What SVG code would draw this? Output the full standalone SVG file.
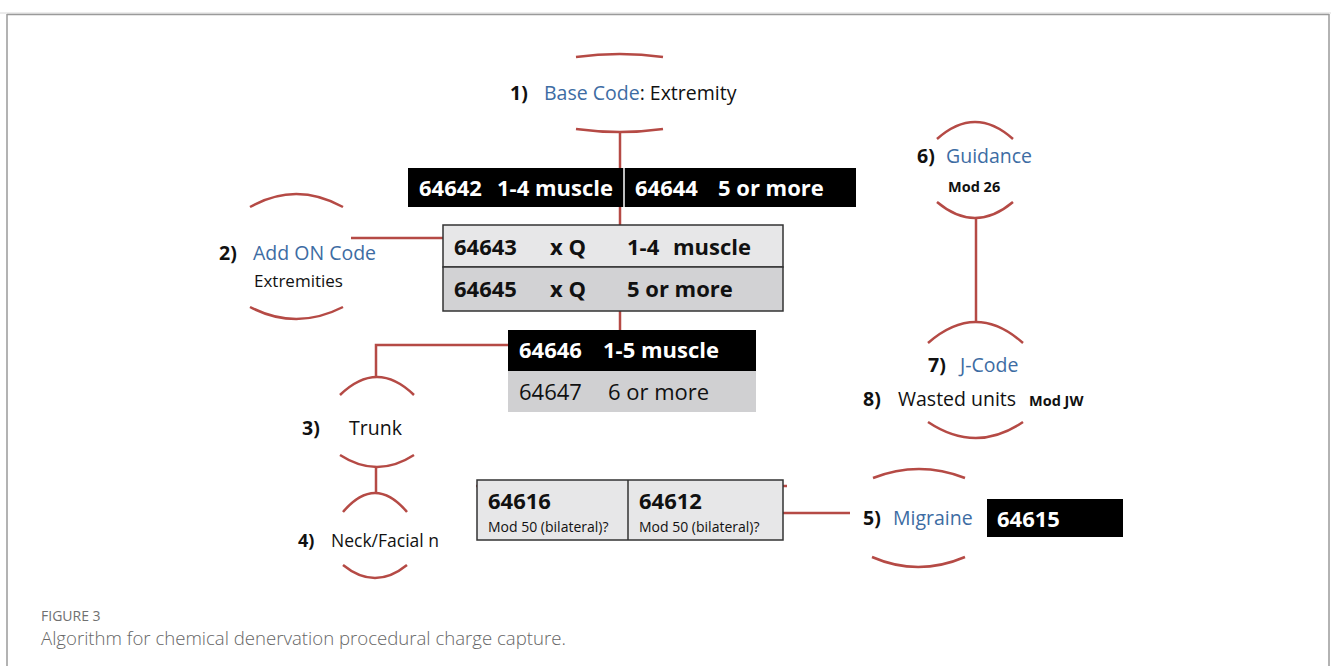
<svg xmlns="http://www.w3.org/2000/svg" width="1331" height="666" viewBox="0 0 1331 666">
<style>
text{font-family:"Open Sans","Liberation Sans",sans-serif;fill:#111}
.lbl{font-size:19.5px}
.num{font-size:19.5px;font-weight:bold}
.blue{fill:#3d6ca3}
.code{font-size:22px;font-weight:bold}
.wcode{font-size:22px;font-weight:bold;fill:#fff}
.reg22{font-size:22px}
.small{font-size:14px}
.mod{font-size:14.5px;font-weight:bold}
.arc{fill:none;stroke:#b54a45;stroke-width:2.5}
.con{fill:none;stroke:#b54a45;stroke-width:2.5}
.frame{stroke:#9a9a9a;stroke-width:1.5;fill:none}
.box{stroke:#333;stroke-width:1.5}
</style>
<g id="frame">
<line x1="0" y1="13" x2="1331" y2="13" stroke="#d8d8d8" stroke-width="1"/>
<line class="frame" x1="7" y1="14.5" x2="1329" y2="14.5"/>
<line class="frame" x1="7" y1="14" x2="7" y2="666"/>
<line class="frame" x1="1329" y1="14" x2="1329" y2="666"/>
</g>
<g id="connectors">
<line class="con" x1="620" y1="132" x2="620" y2="225"/>
<line class="con" x1="620" y1="311" x2="620" y2="330"/>
<line class="con" x1="351" y1="238" x2="443" y2="238"/>
<path class="con" d="M508,345 H376 V377"/>
<line class="con" x1="376" y1="467" x2="376" y2="493"/>
<line class="con" x1="476" y1="486" x2="787" y2="486"/>
<line class="con" x1="783" y1="513" x2="850" y2="513"/>
<line class="con" x1="976" y1="218" x2="976" y2="322"/>
</g>
<g id="n1-base">
<path class="arc" d="M576,57 Q620,51 663,57"/>
<path class="arc" d="M576,129 Q620,135 663,129"/>
<text class="num" x="510" y="100">1)</text>
<text class="lbl" x="544" y="100"><tspan class="blue">Base Code</tspan>: Extremity</text>
</g>
<g id="bar-base">
<rect x="408" y="168" width="448" height="39" fill="#000"/>
<line x1="624" y1="168" x2="624" y2="207" stroke="#fff" stroke-width="1.5"/>
<text class="wcode" x="419" y="196">64642</text>
<text class="wcode" x="497" y="196">1-4 muscle</text>
<text class="wcode" x="635" y="196">64644</text>
<text class="wcode" x="718" y="196">5 or more</text>
</g>
<g id="n2-addon">
<path class="arc" d="M250,207 Q296,181 343,207"/>
<path class="arc" d="M250,307 Q296,331 343,307"/>
<text class="num" x="219" y="260">2)</text>
<text class="lbl blue" x="253" y="260">Add ON Code</text>
<text x="254" y="287" style="font-size:17px">Extremities</text>
</g>
<g id="box-addon">
<rect class="box" x="443" y="225" width="340" height="42" fill="#e7e7e8"/>
<rect class="box" x="443" y="267" width="340" height="44" fill="#d2d2d4"/>
<text class="code" x="454" y="255">64643</text>
<text class="code" x="550" y="255">x Q</text>
<text class="code" x="627" y="255">1-4</text>
<text class="code" x="673" y="255">muscle</text>
<text class="code" x="454" y="297">64645</text>
<text class="code" x="550" y="297">x Q</text>
<text class="code" x="627" y="297">5 or more</text>
</g>
<g id="bar-trunk">
<rect x="508" y="330" width="248" height="41" fill="#000"/>
<rect x="508" y="371" width="248" height="41" fill="#d0d0d2"/>
<text class="wcode" x="519" y="358">64646</text>
<text class="wcode" x="603" y="358">1-5 muscle</text>
<text class="reg22" x="519" y="400">64647</text>
<text class="reg22" x="608" y="400">6 or more</text>
</g>
<g id="n3-trunk">
<path class="arc" d="M340,395 Q377,359 414,395"/>
<path class="arc" d="M340,455 Q377,479 414,455"/>
<text class="num" x="302" y="435">3)</text>
<text class="lbl" x="349" y="435">Trunk</text>
</g>
<g id="n4-neck">
<path class="arc" d="M343,512 Q375,474 407,512"/>
<path class="arc" d="M343,565 Q375,591 407,565"/>
<text class="num" x="298" y="547" style="font-size:18px">4)</text>
<text x="331" y="547" style="font-size:17.5px">Neck/Facial n</text>
</g>
<g id="box-migraine-codes">
<rect class="box" x="477" y="480" width="306" height="60" fill="#e7e7e8"/>
<line class="box" x1="628" y1="480" x2="628" y2="540"/>
<text class="code" x="488" y="509">64616</text>
<text class="small" x="488" y="532">Mod 50 (bilateral)?</text>
<text class="code" x="639" y="509">64612</text>
<text class="small" x="639" y="532">Mod 50 (bilateral)?</text>
</g>
<g id="n5-migraine">
<path class="arc" d="M873,478 Q919,460 965,478"/>
<path class="arc" d="M872,557 Q918,577 965,557"/>
<text class="num" x="863" y="525">5)</text>
<text class="lbl blue" x="893" y="525">Migraine</text>
</g>
<g id="bar-migraine">
<rect x="987" y="499" width="136" height="38" fill="#000"/>
<text class="wcode" x="997" y="527">64615</text>
</g>
<g id="n6-guidance">
<path class="arc" d="M937,139 Q975,105 1013,139"/>
<path class="arc" d="M937,202 Q975,234 1013,202"/>
<text class="num" x="917" y="163">6)</text>
<text class="lbl blue" x="946" y="163">Guidance</text>
<text class="mod" x="948" y="192">Mod 26</text>
</g>
<g id="n7-jcode">
<path class="arc" d="M928,343 Q976,301 1023,343"/>
<path class="arc" d="M928,422 Q976,454 1023,422"/>
<text class="num" x="928" y="372">7)</text>
<text class="lbl blue" x="960" y="372">J-Code</text>
<text class="num" x="863" y="406">8)</text>
<text class="lbl" x="898" y="406">Wasted units</text>
<text class="mod" x="1029" y="406">Mod JW</text>
</g>
<g id="caption">
<text x="41" y="621" style="font-size:14px;fill:#707070">FIGURE 3</text>
<text x="41" y="645" style="font-size:18.6px;fill:#666;font-weight:300">Algorithm for chemical denervation procedural charge capture.</text>
</g>
</svg>
